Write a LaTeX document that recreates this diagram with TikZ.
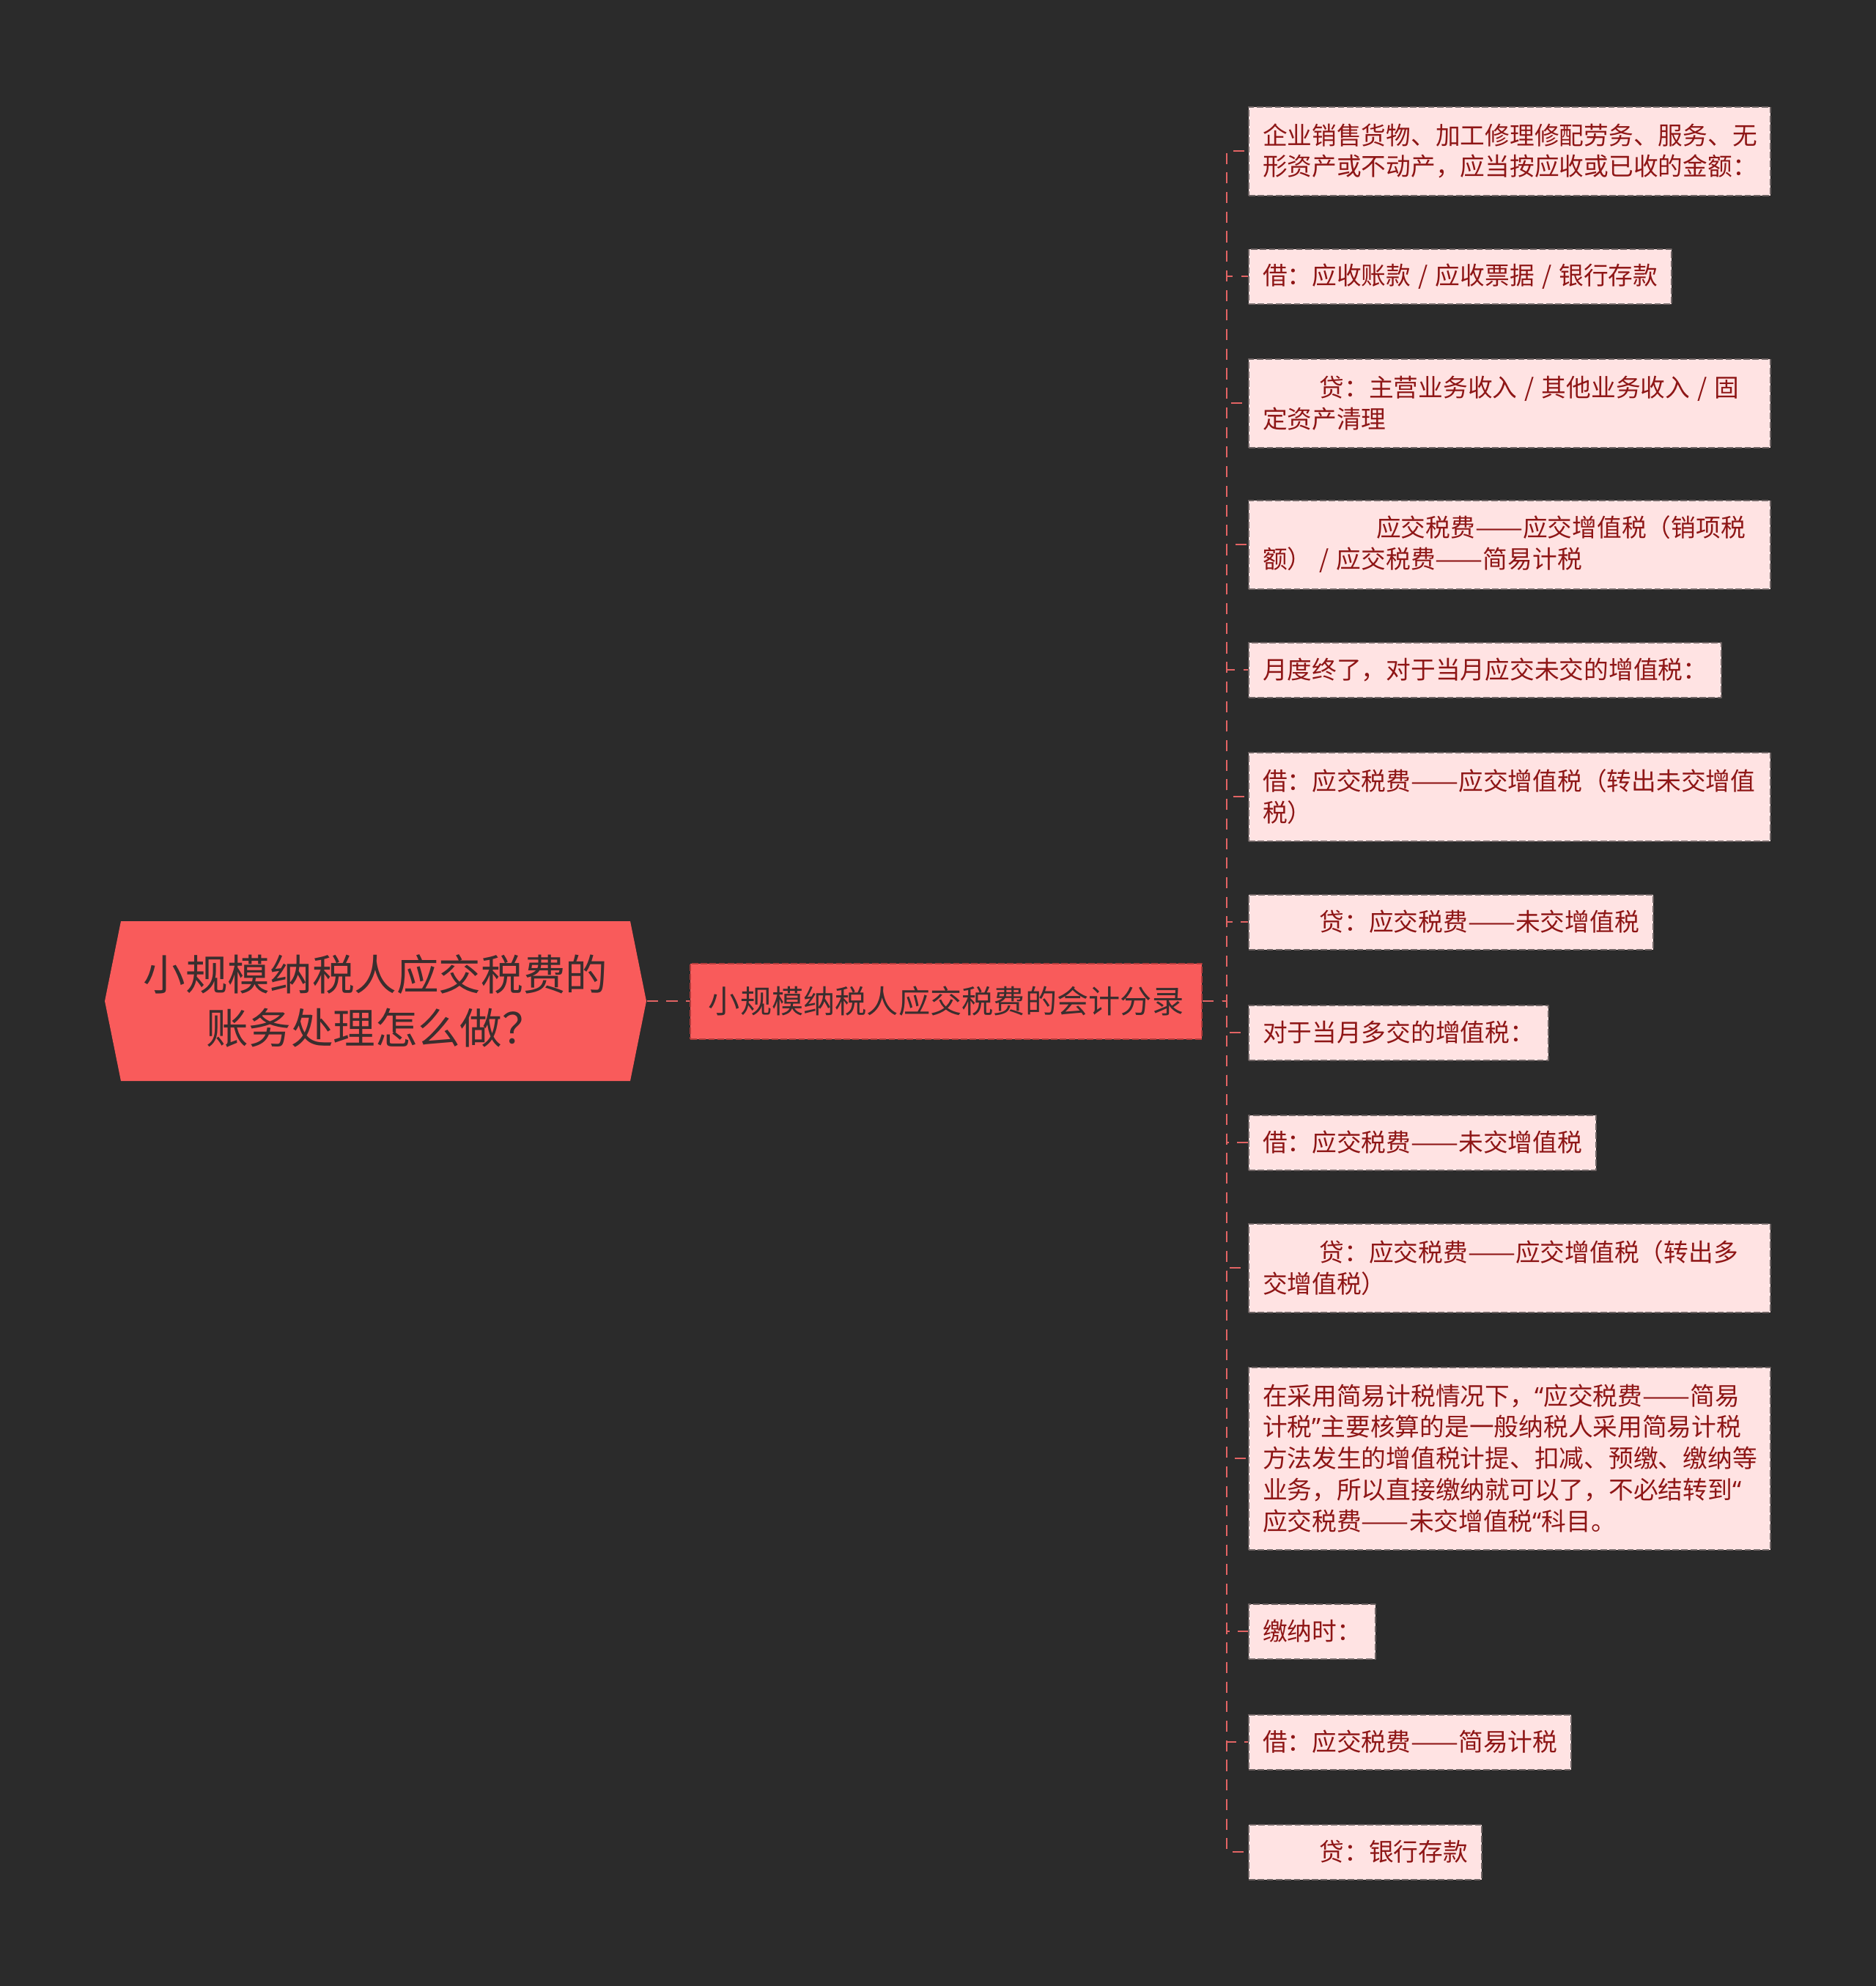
\documentclass[tikz,border=0pt]{standalone}
\usepackage{fontspec}
\newfontfamily\cjk{Noto Sans CJK SC}
\newfontfamily\lat{Noto Sans}
\newcommand\dd{\scalebox{1.15}[1]{——}}
\newcommand\sep{\hspace{0.3em}/\hspace{0.3em}}
\newcommand\oq{{\lat“}}
\newcommand\cq{{\lat”}}
\definecolor{bgc}{HTML}{2B2B2B}
\definecolor{rootc}{HTML}{F95B5B}
\definecolor{darkc}{HTML}{3A2E2E}
\definecolor{leafc}{HTML}{FFE3E3}
\definecolor{leaftc}{HTML}{8E1616}
\definecolor{leafdc}{HTML}{6E6464}
\definecolor{linkc}{HTML}{E36464}
\definecolor{midlc}{HTML}{B23C3C}
\begin{document}
\begin{tikzpicture}[line join=round,
	link/.style={draw=linkc,line width=0.028cm,dash pattern=on 4.3pt off 3.3pt},
	root/.style={minimum width=7.39cm,minimum height=2.18cm,inner sep=0pt,align=center,text=darkc,font=\cjk\fontsize{16.4}{20.8}\selectfont},
	mid/.style={fill=rootc,draw=midlc,line width=0.02cm,dash pattern=on 2.5pt off 1pt,minimum width=6.98cm,minimum height=1.03cm,inner sep=0pt,text=darkc,font=\cjk\fontsize{12.3}{14}\selectfont},
	leaf/.style={anchor=west,fill=leafc,draw=leafdc,line width=0.02cm,dash pattern=on 2.5pt off 1pt,text=leaftc,font=\cjk\fontsize{9.6}{12.2}\selectfont,inner xsep=0.19cm,inner ysep=0pt,minimum height=0.75cm,align=left},
	leaf two/.style={leaf,text width=6.74cm,minimum height=1.21cm},
	leaf five/.style={leaf,text width=6.74cm,minimum height=2.49cm}]
		\useasboundingbox (0,0) rectangle (25.6,-27.1);
		\fill[bgc] (0,0) rectangle (25.6,-27.1);
		\fill[rootc] (1.43,-13.66)--(1.65,-12.57)--(8.60,-12.57)--(8.82,-13.66)--(8.60,-14.75)--(1.65,-14.75)--cycle;
		\node[root] (root) at (5.125,-13.66) {小规模纳税人应交税费的\\账务处理怎么做？};
		\node[mid] (mid) at (12.91,-13.66) {小规模纳税人应交税费的会计分录};
		
		\node[leaf two] (l1) at (17.03,-2.06) {企业销售货物、加工修理修配劳务、服务、无\\形资产或不动产，应当按应收或已收的金额：};
		\node[leaf] (l2) at (17.03,-3.77) {借：应收账款\sep 应收票据\sep 银行存款};
		\node[leaf two] (l3) at (17.03,-5.50) {\hspace*{2.3em}贷：主营业务收入\sep 其他业务收入\sep 固\\定资产清理};
		\node[leaf two] (l4) at (17.03,-7.43) {\hspace*{4.6em}应交税费\dd 应交增值税（销项税\\额）\sep 应交税费\dd 简易计税};
		\node[leaf] (l5) at (17.03,-9.14) {月度终了，对于当月应交未交的增值税：};
		\node[leaf two] (l6) at (17.03,-10.87) {借：应交税费\dd 应交增值税（转出未交增值\\税）};
		\node[leaf] (l7) at (17.03,-12.58) {\hspace*{2.3em}贷：应交税费\dd 未交增值税};
		\node[leaf] (l8) at (17.03,-14.09) {对于当月多交的增值税：};
		\node[leaf] (l9) at (17.03,-15.59) {借：应交税费\dd 未交增值税};
		\node[leaf two] (l10) at (17.03,-17.30) {\hspace*{2.3em}贷：应交税费\dd 应交增值税（转出多\\交增值税）};
		\node[leaf five] (l11) at (17.03,-19.90) {在采用简易计税情况下，\oq 应交税费\dd 简易\\计税\cq 主要核算的是一般纳税人采用简易计税\\方法发生的增值税计提、扣减、预缴、缴纳等\\业务，所以直接缴纳就可以了，不必结转到\oq\\应交税费\dd 未交增值税\oq 科目。};
		\node[leaf] (l12) at (17.03,-22.26) {缴纳时：};
		\node[leaf] (l13) at (17.03,-23.77) {借：应交税费\dd 简易计税};
		\node[leaf] (l14) at (17.03,-25.27) {\hspace*{2.3em}贷：银行存款};
		
		\draw[link] (root.east)--(mid.west);
		\foreach \i in {1,...,14}
		\draw[link] (mid.east)--++(0.33,0)|-(l\i.west);
		\end{tikzpicture}
\end{document}
